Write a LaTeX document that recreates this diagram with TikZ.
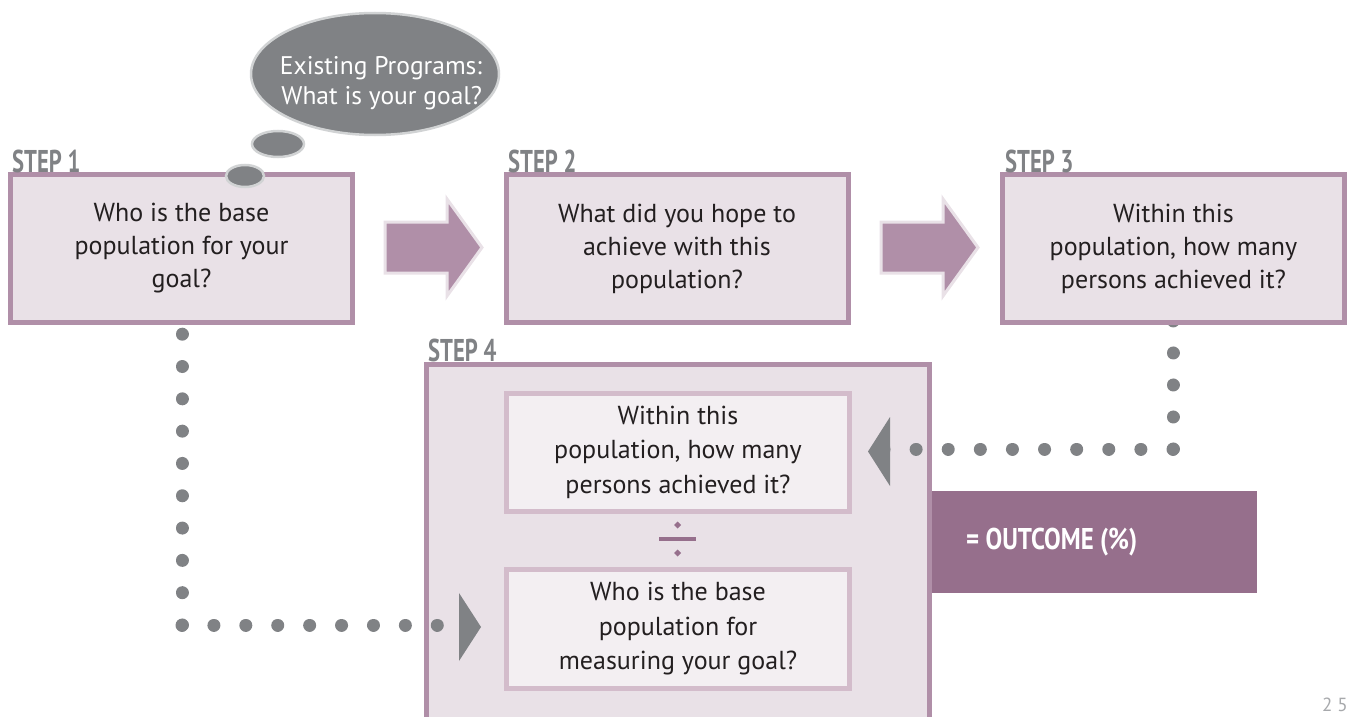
\documentclass[tikz,border=0pt]{standalone}
\usepackage{fontspec}
\setmainfont{PT Sans}
\newfontfamily\stepfont{PT Sans}[FakeStretch=0.72]
\newfontfamily\outfont{PT Sans}[FakeStretch=0.83]
\usetikzlibrary{shapes.geometric}
\definecolor{boxborder}{HTML}{B08FA8}
\definecolor{boxfill}{HTML}{E9E1E7}
\definecolor{innerborder}{HTML}{D3BCCB}
\definecolor{innerfill}{HTML}{F3EFF2}
\definecolor{outcomefill}{HTML}{966F8C}
\definecolor{grayone}{HTML}{808285}
\definecolor{bubbleedge}{HTML}{D1D3D4}
\definecolor{textcol}{HTML}{231F20}
\definecolor{pagenum}{HTML}{A7A9AC}
\begin{document}
\begin{tikzpicture}[x=1pt,y=-1pt,
  bodytext/.style={font=\fontsize{26}{33}\selectfont, text=textcol, align=center},
  stepbox/.style={bodytext, draw=boxborder, line width=5pt, fill=boxfill, minimum width=342pt, minimum height=148pt, inner sep=0pt},
  innerbox/.style={bodytext, draw=innerborder, line width=5pt, fill=innerfill, minimum width=343pt, minimum height=118pt, inner sep=0pt, font=\fontsize{26}{34.5}\selectfont},
  steplabel/.style={font=\stepfont\bfseries\fontsize{31.5}{31.5}\selectfont, text=grayone, anchor=base west, inner sep=0pt},
  dotline/.style={draw=grayone, line width=13pt, line cap=round, dash pattern=on 0.01pt off #1},
  blockarrow/.style={fill=boxborder, draw=boxfill, line width=3pt, line join=miter},
  pointer/.style={fill=grayone, draw=none},
  bubble/.style={ellipse, fill=grayone, draw=bubbleedge, line width=2.5pt, inner sep=0pt}
]
\useasboundingbox (0,0) rectangle (1350,717);

% outcome box (behind step 4 border)
\node[fill=outcomefill, minimum width=327pt, minimum height=102pt, inner sep=0pt] (outcome) at (1093.5,542) {};
\node[font=\outfont\bfseries\fontsize{30}{30}\selectfont, text=white, anchor=west, inner sep=0pt] (outcometext) at (966,542) {= OUTCOME (\%)};

% step 4 container
\node[draw=boxborder, line width=5pt, fill=boxfill, minimum width=503pt, minimum height=376pt, inner sep=0pt] (s4) at (678,552.5) {};

% connector coordinates
\coordinate (c1top) at (182,330);
\coordinate (c1corner) at (182,625);
\coordinate (c1end) at (440,625);
\coordinate (c3top) at (1173,317);
\coordinate (c3corner) at (1173,449);
\coordinate (c3end) at (884,449);

% dotted connectors (step boxes cover their upper ends)
\draw[dotline=32.3pt] (c1corner) -- (c1top);
\draw[dotline=31.9pt] (c1corner) -- (c1end);
\draw[dotline=32pt] (c3corner) -- (c3top);
\draw[dotline=32.1pt] (c3corner) -- (c3end);

% step boxes
\node[stepbox] (s1) at (181.5,248.5) {Who is the base\\population for your\\goal?};
\node[stepbox] (s2) at (677,248.5) {What did you hope to\\achieve with this\\population?};
\node[stepbox] (s3) at (1173.5,248.5) {Within this\\population, how many\\persons achieved it?};

% step 4 inner boxes
\node[innerbox] (num) at (678,452) {Within this\\population, how many\\persons achieved it?};
\node[innerbox, minimum height=119pt] (den) at (678,629) {Who is the base\\population for\\measuring your goal?};

% divide sign
\coordinate (divc) at (677.5,539);
\draw[draw=outcomefill, line width=4pt] ([xshift=-18.5pt]divc) -- ([xshift=18.5pt]divc);
\fill[outcomefill] ([yshift=-14pt]divc) +(-3.5,0) -- +(0,-3.5) -- +(3.5,0) -- +(0,3.5) -- cycle;
\fill[outcomefill] ([yshift=14pt]divc) +(-3.5,0) -- +(0,-3.5) -- +(3.5,0) -- +(0,3.5) -- cycle;

% step labels
\node[steplabel] (l1) at (12,172) {STEP 1};
\node[steplabel] (l2) at (508,172) {STEP 2};
\node[steplabel] (l3) at (1005,172) {STEP 3};
\node[steplabel] (l4) at (428,361) {STEP 4};

% block arrows between steps
\draw[blockarrow] (385,222) -- (447,222) -- (447,199) -- (482,247.5) -- (447,296) -- (447,273) -- (385,273) -- cycle;
\draw[blockarrow] (881,222) -- (943,222) -- (943,199) -- (978,247.5) -- (943,296) -- (943,273) -- (881,273) -- cycle;

% gray pointers
\fill[pointer] (890,417) -- (868,451.5) -- (890,486) -- cycle;
\fill[pointer] (459,593) -- (481,627) -- (459,661) -- cycle;

% thought bubble
\node[bubble, minimum width=248pt, minimum height=122pt] (thought) at (375,74) {};
\node[text=white, align=right, font=\fontsize{25.5}{30}\selectfont, inner sep=0pt] (thoughttext) at (381,83) {Existing Programs:\\What is your goal?};
\node[bubble, minimum width=52pt, minimum height=26pt] (b2) at (278,144) {};
\node[bubble, minimum width=38pt, minimum height=22pt] (b1) at (245,176) {};

% page number
\node[font=\fontsize{19}{19}\selectfont\addfontfeature{LetterSpace=25}, text=pagenum, anchor=base west, inner sep=0pt] (page) at (1322,711) {25};
\end{tikzpicture}
\end{document}
